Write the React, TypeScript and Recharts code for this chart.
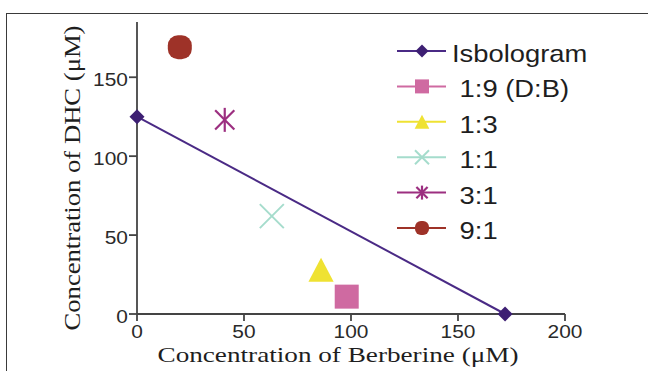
import React from 'react';
import { ScatterChart, Scatter, XAxis, YAxis, Legend, Label } from 'recharts';

// isobologram end points (Berberine, DHC)
const isoBerberine = [0, 172];
const isoDhc = [125, 0];

// combination points, D:B ratio
const ratios = ['1:9 (D:B)', '1:3', '1:1', '3:1', '9:1'];
const berberine = [98, 86, 63, 41, 20];
const dhc = [11, 28, 62, 123, 169];

const xTicks = [0, 50, 100, 150, 200];
const yTicks = [0, 50, 100, 150];

const ISO_COLOR = '#4a2a85';
const ISO_FILL = '#3d1f73';
const colors = ['#cf6aa1', '#efe232', '#a5dccc', '#9c2f80', '#9e3228'];
const kinds = ['square', 'triangle', 'cross', 'star', 'circle'];

const isoData = isoBerberine.map((x, i) => ({ x, y: isoDhc[i] }));
const pointData = ratios.map((name, i) => ({ name, data: [{ x: berberine[i], y: dhc[i] }] }));

const SANS = "'Liberation Sans', Arial, sans-serif";
const SERIF = "'Liberation Serif', 'Times New Roman', serif";

const Marker = ({ kind, cx, cy, s, color }: { kind: string; cx: number; cy: number; s: number; color: string }) => {
  const h = s / 2;
  if (kind === 'diamond') {
    return <polygon points={`${cx},${cy - h} ${cx + h},${cy} ${cx},${cy + h} ${cx - h},${cy}`} fill={ISO_FILL} />;
  }
  if (kind === 'square') return <rect x={cx - h} y={cy - h} width={s} height={s} fill={color} />;
  if (kind === 'triangle') {
    return <polygon points={`${cx},${cy - h} ${cx + h * 1.05},${cy + h} ${cx - h * 1.05},${cy + h}`} fill={color} />;
  }
  if (kind === 'cross') {
    return (
      <g stroke={color} strokeWidth={2}>
        <line x1={cx - h} y1={cy - h} x2={cx + h} y2={cy + h} />
        <line x1={cx - h} y1={cy + h} x2={cx + h} y2={cy - h} />
      </g>
    );
  }
  if (kind === 'star') {
    const d = h * 0.8;
    return (
      <g stroke={color} strokeWidth={2.2}>
        <line x1={cx} y1={cy - h} x2={cx} y2={cy + h} />
        <line x1={cx - d} y1={cy - d} x2={cx + d} y2={cy + d} />
        <line x1={cx - d} y1={cy + d} x2={cx + d} y2={cy - d} />
      </g>
    );
  }
  return <rect x={cx - h} y={cy - h} width={s} height={s} rx={h * 0.85} fill={color} />;
};

const legendRows = [
  { name: 'Isbologram', kind: 'diamond', color: ISO_COLOR },
  ...ratios.map((name, i) => ({ name: ' ' + name, kind: kinds[i], color: colors[i] })),
];

const renderLegend = () => (
  <svg width={210} height={230} style={{ display: 'block', overflow: 'visible' }}>
    {legendRows.map((r, i) => {
      const y = 21 + i * 35.4;
      return (
        <g key={r.name}>
          <line x1={7} x2={56} y1={y} y2={y} stroke={r.color} strokeWidth={2} />
          <Marker kind={r.kind} cx={32} cy={y} s={r.kind === 'diamond' ? 13 : 14} color={r.color} />
          <text
            x={62}
            y={y + 11}
            fontFamily={SANS}
            fontSize={24}
            fill="#1e1e1e"
            style={{ whiteSpace: 'pre' }}
            transform="translate(62 0) scale(1.14 1) translate(-62 0)"
          >
            {r.name}
          </text>
        </g>
      );
    })}
  </svg>
);

const XTick = (props: any) => {
  const { x, y, payload } = props;
  return (
    <text x={x} y={y} dy="0.71em" textAnchor="middle" fontFamily={SANS} fontSize={19} fill="#2a2a2a"
      transform={`translate(${x} 0) scale(1.1 1) translate(${-x} 0)`}>
      {payload.value}
    </text>
  );
};

const YTick = (props: any) => {
  const { x, y, payload } = props;
  return (
    <text x={x} y={y + 2} dy="0.355em" textAnchor="end" fontFamily={SANS} fontSize={19} fill="#2a2a2a"
      transform={`translate(${x} 0) scale(1.1 1) translate(${-x} 0)`}>
      {payload.value}
    </text>
  );
};

const XTitle = (props: any) => {
  const vb = props.viewBox;
  const cx = vb.x + vb.width / 2 - 13;
  return (
    <text x={cx} y={362} textAnchor="middle" fontFamily={SERIF}
      fontSize={22} fill="#1e1e1e" textLength={361} lengthAdjust="spacingAndGlyphs">
      Concentration of Berberine (μM)
    </text>
  );
};

const YTitle = () => (
  <text x={80} y={178} textAnchor="middle" transform="rotate(-90, 80, 178)"
    fontFamily={SERIF} fontSize={23} fill="#1e1e1e"
    textLength={305} lengthAdjust="spacingAndGlyphs">
    Concentration of DHC (μM)
  </text>
);

export default function App() {
  return (
    <div style={{ position: 'absolute', left: 0, top: 0, width: 648, height: 371, background: '#fff', overflow: 'hidden' }}>
      <div style={{ position: 'absolute', left: 6, top: 13, width: 660, height: 380, border: '1.5px solid #3a3a3a' }} />
      <ScatterChart width={648} height={371} margin={{ top: 22, right: 83, bottom: 17, left: 77 }}>
        <XAxis
          type="number"
          dataKey="x"
          domain={[0, 200]}
          ticks={xTicks}
          height={40}
          tick={<XTick />}
          tickSize={7}
          tickMargin={4}
          axisLine={{ stroke: '#444', strokeWidth: 1.8 }}
          tickLine={{ stroke: '#444', strokeWidth: 1.8 }}
        >
          <Label content={<XTitle />} />
        </XAxis>
        <YAxis
          type="number"
          dataKey="y"
          domain={[0, 185]}
          ticks={yTicks}
          width={60}
          tick={<YTick />}
          tickSize={8}
          tickMargin={1}
          axisLine={{ stroke: '#444', strokeWidth: 1.8 }}
          tickLine={{ stroke: '#444', strokeWidth: 1.8 }}
        >
          <Label content={<YTitle />} />
        </YAxis>
        <Legend
          layout="vertical"
          align="center"
          verticalAlign="middle"
          content={renderLegend}
          wrapperStyle={{ left: 390, top: 30, width: 210 }}
        />
        <Scatter
          name="Isbologram"
          data={isoData}
          line={{ stroke: ISO_COLOR, strokeWidth: 2 }}
          stroke={ISO_COLOR}
          fill={ISO_FILL}
          isAnimationActive={false}
          shape={(p: any) => <Marker kind="diamond" cx={p.cx} cy={p.cy} s={15} color={ISO_FILL} />}
        />
        {pointData.map((s, i) => (
          <Scatter
            key={s.name}
            name={s.name}
            data={s.data}
            fill={colors[i]}
            isAnimationActive={false}
            shape={(p: any) => <Marker kind={kinds[i]} cx={p.cx} cy={p.cy} s={24} color={colors[i]} />}
          />
        ))}
      </ScatterChart>
    </div>
  );
}
